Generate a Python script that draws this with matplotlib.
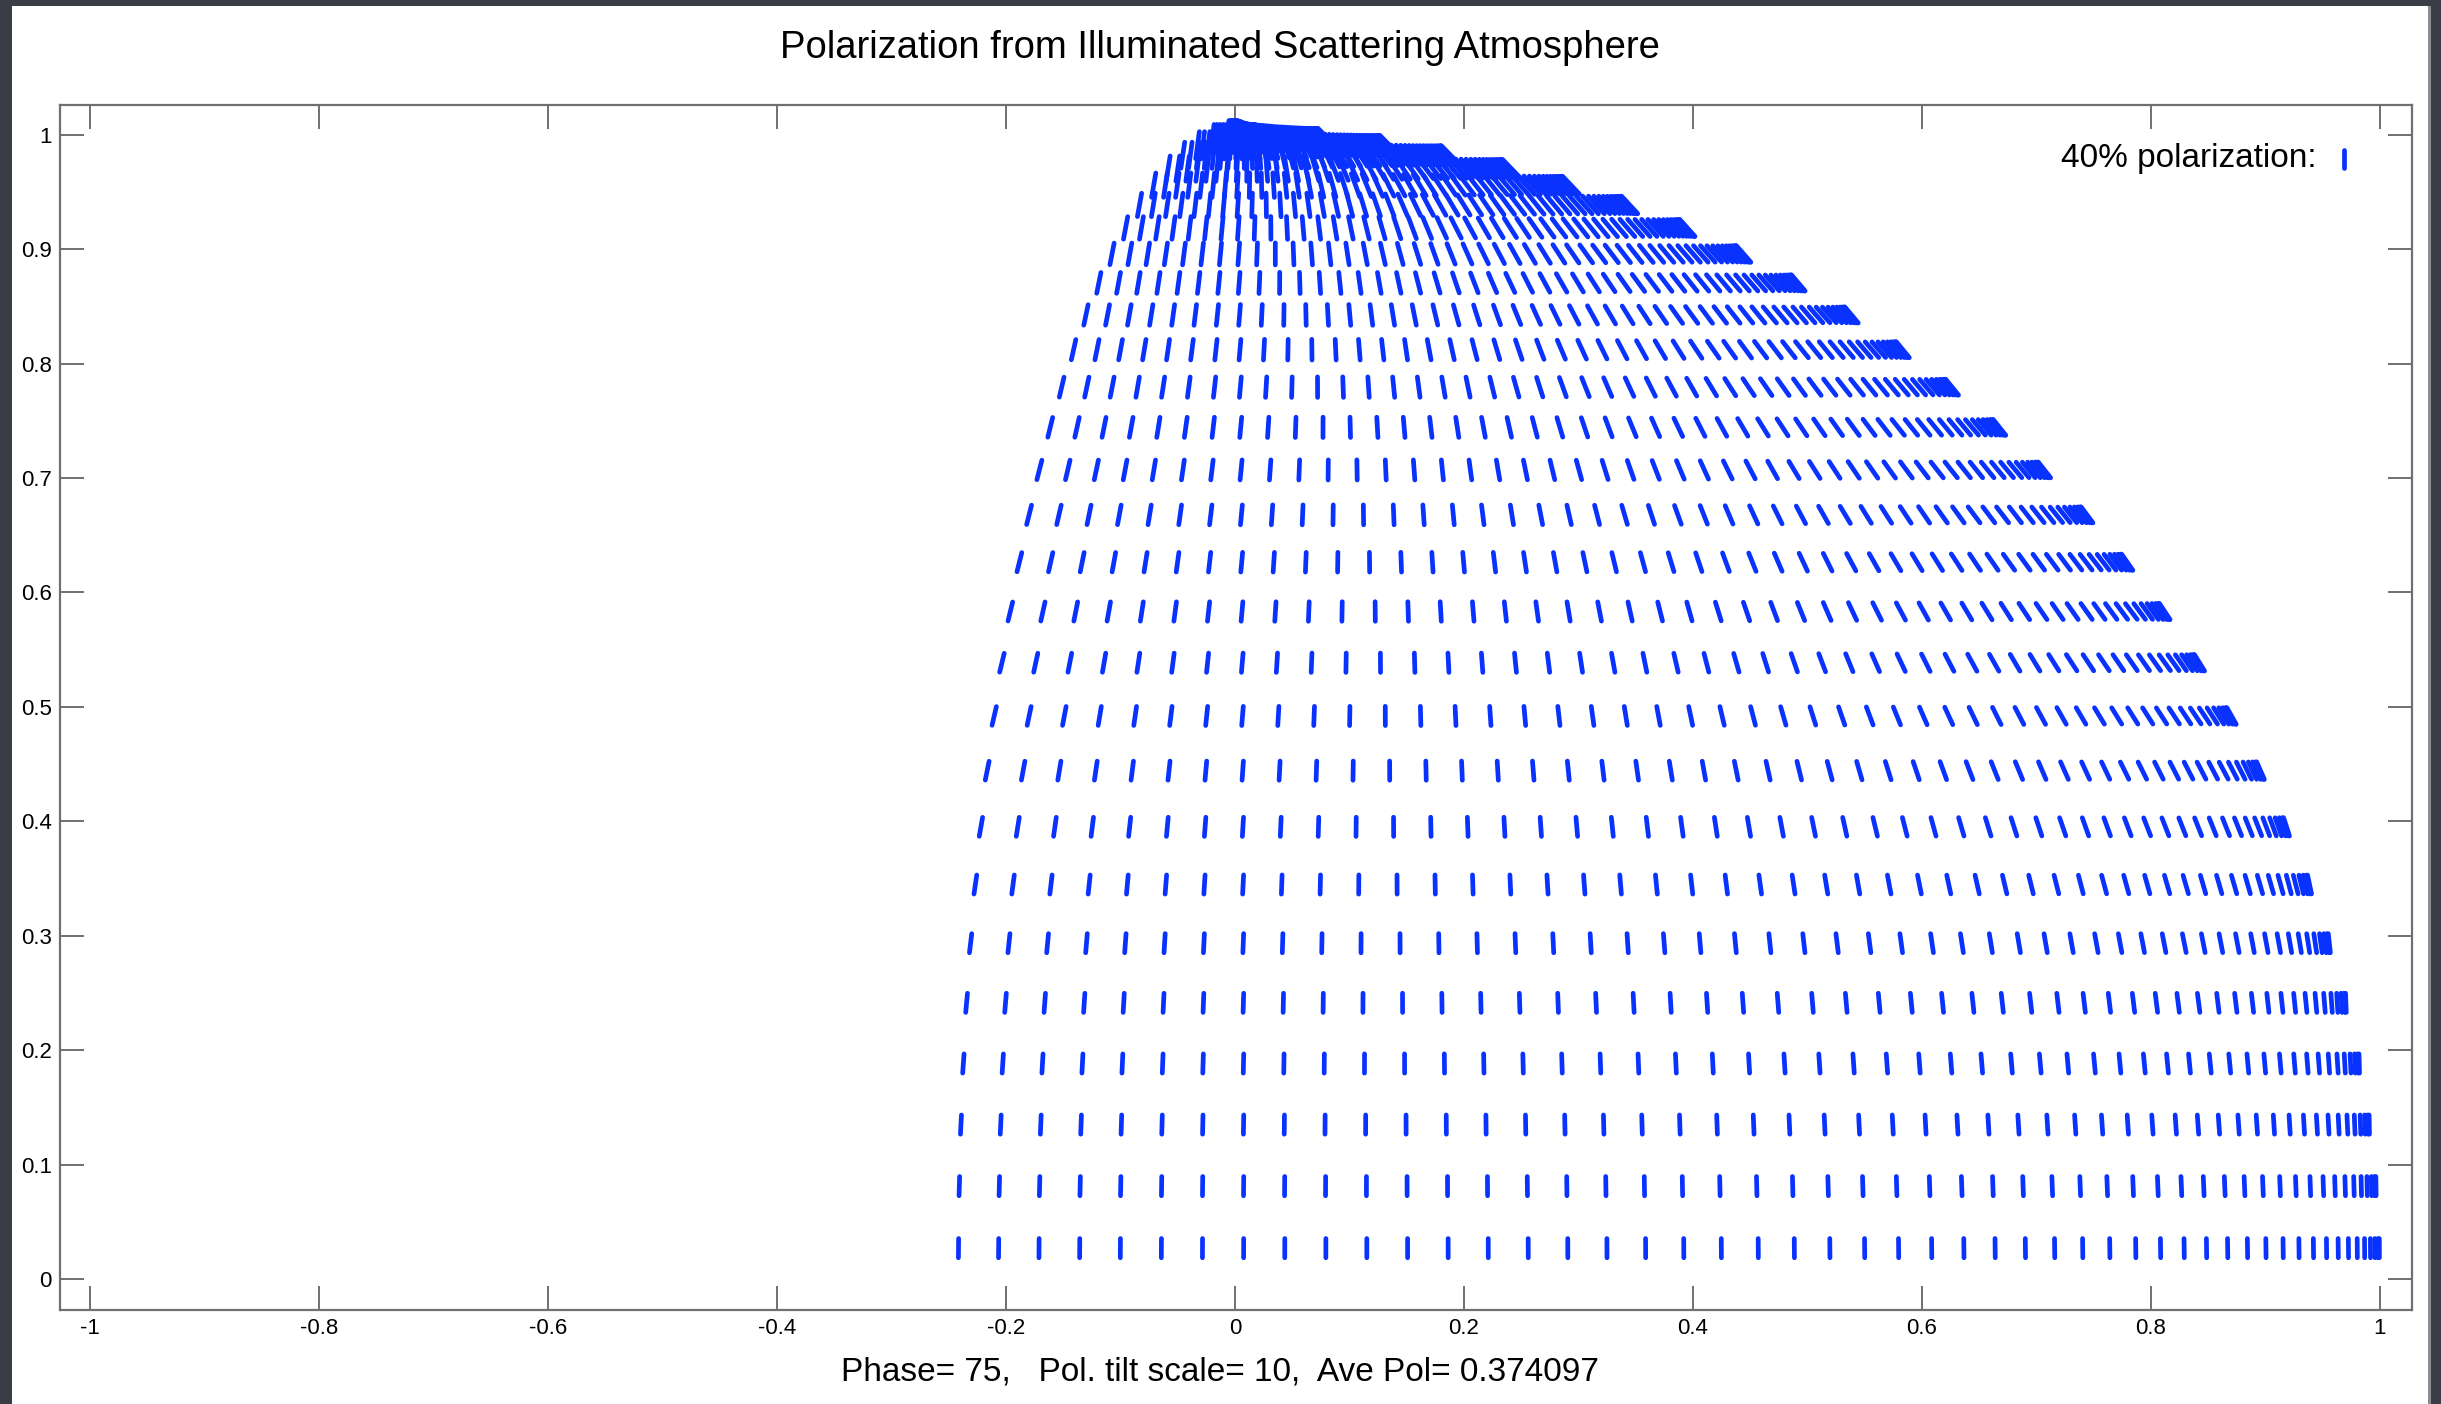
import numpy as np
import matplotlib
matplotlib.use('Agg')
import matplotlib.pyplot as plt
from matplotlib.collections import LineCollection
from matplotlib.patches import Rectangle

# grid of sample points on the lit, visible part of the disk (degrees)
latitudes = [1.55, 4.66, 7.76, 10.86, 13.97, 17.07, 20.17, 23.28, 26.38, 29.48,
             32.59, 35.69, 38.79, 41.90, 45.00, 48.10, 51.21, 54.31, 57.41, 60.52,
             63.62, 66.72, 69.83, 72.93, 76.03, 79.14, 82.24, 85.34, 88.45]
longitudes = [-13.97, -11.91, -9.85, -7.79, -5.74, -3.68, -1.62, 0.44, 2.50, 4.56,
              6.62, 8.68, 10.74, 12.79, 14.85, 16.91, 18.97, 21.03, 23.09, 25.15,
              27.21, 29.26, 31.32, 33.38, 35.44, 37.50, 39.56, 41.62, 43.68, 45.74,
              47.79, 49.85, 51.91, 53.97, 56.03, 58.09, 60.15, 62.21, 64.26, 66.32,
              68.38, 70.44, 72.50, 74.56, 76.62, 78.68, 80.74, 82.79, 84.85, 86.91,
              88.97]

# tilt of the polarization bars (deg from vertical, + = "\")
tilt_lat = [0, 15, 30, 45, 60, 75, 90]
tilt_lon = [-15, 0, 15, 30, 45, 60, 75, 90]
tilt_table = [
    [0, 0, 0, 0, 0, 0, 0, 0],
    [-6, -2, 2, 5, 7, 8, 6, 2],
    [-14, -5, 4, 14, 25, 32, 35, 30],
    [-15, -6, 6, 20, 32, 38, 40, 38],
    [-12, -5, 10, 26, 36, 40, 42, 40],
    [-10, -4, 14, 30, 38, 42, 44, 44],
    [-6, 0, 16, 32, 40, 44, 45, 45],
]
# polarization fraction (bar length) by latitude
pol_lat = [0, 30, 60, 75, 90]
pol_values = [0.42, 0.42, 0.46, 0.55, 0.65]
legend_pol = 0.40
bar_per_pol = 0.040

title = 'Polarization from Illuminated Scattering Atmosphere'
subtitle = 'Phase= 75,   Pol. tilt scale= 10,  Ave Pol= 0.374097'
legend_label = '40% polarization:'

plt.rcParams['font.family'] = ['Liberation Sans', 'DejaVu Sans']

fig = plt.figure(figsize=(24.41, 14.04), dpi=100, facecolor='#3a3d45')
fig.add_artist(Rectangle((12 / 2441, 0), 2416 / 2441, 1398 / 1404,
                         transform=fig.transFigure, facecolor='white',
                         edgecolor='none', zorder=0))
fig.add_artist(Rectangle((2428 / 2441, 0), 3 / 2441, 1398 / 1404,
                         transform=fig.transFigure, facecolor='#8a8c92',
                         edgecolor='none', zorder=0))
ax = fig.add_axes([60 / 2441, 94 / 1404, 2352 / 2441, 1205 / 1404])

lat = np.radians(np.array(latitudes))[:, None]
lon = np.radians(np.array(longitudes))[None, :]
xc = np.cos(lat) * np.sin(lon)
yc = np.sin(lat) * np.ones_like(lon)

tab = np.array(tilt_table, dtype=float)
by_lon = np.array([[np.interp(l, tilt_lon, row) for l in longitudes] for row in tab])
tilt = np.array([[np.interp(la, tilt_lat, by_lon[:, j]) for j in range(len(longitudes))]
                 for la in latitudes])
pol = np.interp(latitudes, pol_lat, pol_values)[:, None]
th = np.radians(tilt)
half = 0.5 * pol * bar_per_pol
dx = -np.sin(th) * half
dy = np.cos(th) * half

segs = np.stack([np.stack([xc - dx, yc - dy], -1), np.stack([xc + dx, yc + dy], -1)], -2)
segs = segs.reshape(-1, 2, 2)
ax.add_collection(LineCollection(segs, colors='#0a32ff', linewidths=3.4, capstyle='round'))

# legend bar
lh = 0.5 * legend_pol * bar_per_pol
ax.plot([0.969, 0.969], [0.979 - lh, 0.979 + lh], color='#0a32ff', lw=3.4,
        solid_capstyle='round')
ax.text(0.945, 0.979, legend_label, ha='right', va='center', fontsize=24)

ax.set_xlim(-1.026, 1.028)
ax.set_ylim(-0.027, 1.026)
ax.set_xticks(np.linspace(-1, 1, 11))
ax.set_yticks(np.linspace(0, 1, 11))
ax.xaxis.set_major_formatter(matplotlib.ticker.FormatStrFormatter('%g'))
ax.yaxis.set_major_formatter(matplotlib.ticker.FormatStrFormatter('%g'))
ax.tick_params(direction='in', length=17, width=1.4, color='#707070',
               top=True, right=True, labelsize=16, pad=6)
for s in ax.spines.values():
    s.set_color('#707070')
    s.set_linewidth(1.6)

fig.text(1220 / 2441, 1 - 48 / 1404, title, ha='center', va='center', fontsize=27.5)
fig.text(1220 / 2441, 1 - 1372 / 1404, subtitle, ha='center', va='center', fontsize=24)

fig.savefig('out.png', dpi=100, facecolor=fig.get_facecolor())
